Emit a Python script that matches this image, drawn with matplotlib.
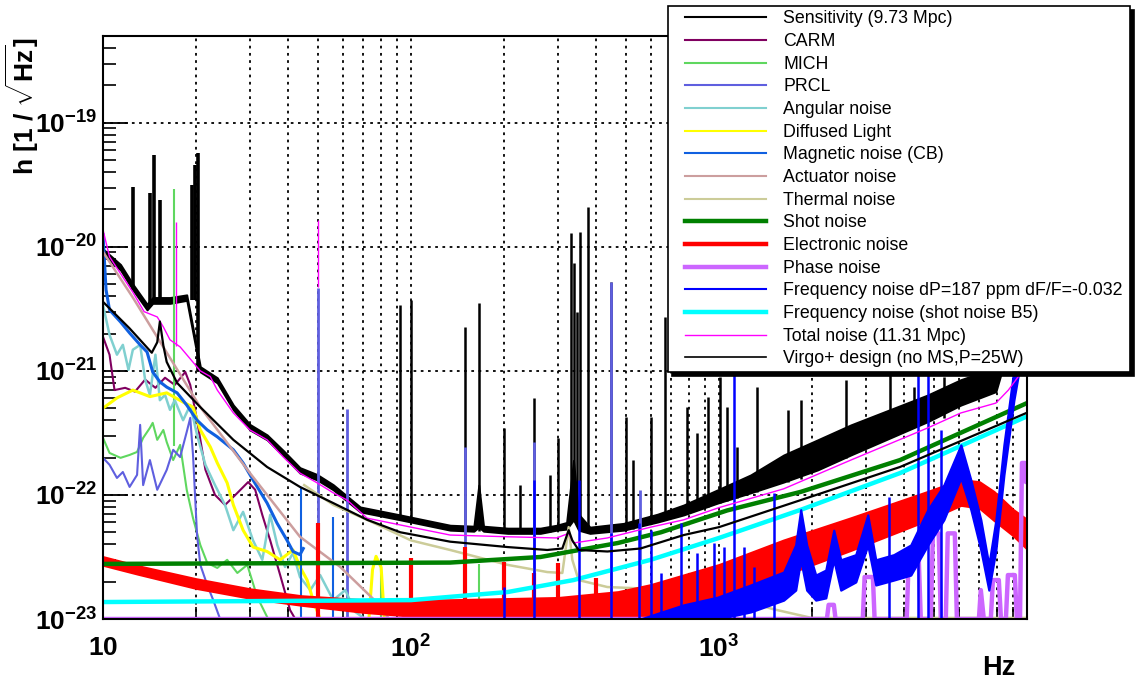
import numpy as np
import matplotlib
matplotlib.use("Agg")
import matplotlib.pyplot as plt
from matplotlib.lines import Line2D
from matplotlib.legend_handler import HandlerLine2D
from matplotlib.ticker import LogLocator, NullFormatter

plt.rcParams['font.family'] = ['Liberation Sans', 'DejaVu Sans']
plt.rcParams['mathtext.fontset'] = 'custom'
plt.rcParams['mathtext.rm'] = 'Liberation Sans:bold'
plt.rcParams['mathtext.it'] = 'Liberation Sans:bold'
plt.rcParams['mathtext.bf'] = 'Liberation Sans:bold'
plt.rcParams['mathtext.default'] = 'rm'

# ---------------- data: frequency [Hz], strain [1/sqrt(Hz)] ----------------
# measured sensitivity (noisy band: lower / upper edge) + lines
sens_f = [10, 11.4, 12.5, 13.9, 14.5, 16.5, 18.7, 20.7, 23.5, 26.5, 30, 34.1, 38.5, 43.6,
          49.6, 55.9, 68.4, 92.3, 134, 160, 166, 172, 206, 263, 297, 320, 337, 350, 381,
          490, 632, 768, 990, 1267, 1622, 2090, 2680, 4764, 6100, 7925, 8870, 10000]
sens_lo = [8.6e-21, 6.5e-21, 4.5e-21, 3.1e-21, 3.5e-21, 3.5e-21, 3.7e-21, 9.8e-22, 8.0e-22,
           4.85e-22, 3.34e-22, 2.78e-22, 2.06e-22, 1.5e-22, 1.32e-22, 1.1e-22, 7.3e-23,
           6.3e-23, 5.2e-23, 5.1e-23, 5.5e-23, 5.1e-23, 4.9e-23, 4.9e-23, 5.2e-23, 5.3e-23,
           6.3e-23, 5.2e-23, 4.9e-23, 5.2e-23, 6.05e-23, 6.9e-23, 8.6e-23, 1.04e-22,
           1.27e-22, 1.59e-22, 2.1e-22, 3.9e-22, 5.3e-22, 6.8e-22, 1.78e-21, 7.85e-21]
sens_hi = [9.6e-21, 7.2e-21, 5.0e-21, 3.45e-21, 3.9e-21, 3.9e-21, 4.1e-21, 1.08e-21, 8.8e-22,
           5.3e-22, 3.7e-22, 3.05e-22, 2.28e-22, 1.66e-22, 1.46e-22, 1.21e-22, 8.0e-23,
           6.9e-23, 5.7e-23, 5.6e-23, 1.2e-22, 5.6e-23, 5.4e-23, 5.4e-23, 5.7e-23, 6.0e-23,
           1.9e-22, 7.0e-23, 5.5e-23, 5.9e-23, 7.0e-23, 8.3e-23, 1.1e-22, 1.45e-22,
           2.1e-22, 2.78e-22, 3.67e-22, 6.4e-22, 8.5e-22, 1.06e-21, 3.7e-21, 2.4e-20]
sens_spike_f = [12.5, 14.2, 14.6, 15.3, 19.5, 19.9, 20.3, 92.3, 100, 150, 166, 200, 226, 250,
                283, 300, 330, 337, 345, 355, 376, 446, 500, 527, 600, 670, 790, 850, 920,
                1010, 1060, 1140, 1330, 1670, 1840, 2590, 3600, 4285, 5370]
sens_spike_base = [4.5e-21, 3.3e-21, 3.5e-21, 3.5e-21, 3.7e-21, 3.7e-21, 1.0e-21, 6.3e-23,
                   6.2e-23, 5.2e-23, 5.1e-23, 4.9e-23, 4.9e-23, 4.9e-23, 5.0e-23, 5.2e-23,
                   6.0e-23, 6.3e-23, 6.0e-23, 5.5e-23, 4.9e-23, 5.0e-23, 5.2e-23, 5.3e-23,
                   5.8e-23, 6.3e-23, 7.0e-23, 7.5e-23, 8.0e-23, 8.6e-23, 9.0e-23, 9.5e-23,
                   1.05e-22, 1.27e-22, 1.35e-22, 2.0e-22, 3.0e-22, 3.5e-22, 4.2e-22]
sens_spike_top = [3.05e-20, 2.72e-20, 5.5e-20, 2.4e-20, 3.16e-20, 4.6e-20, 5.7e-20, 3.4e-21,
                  3.74e-21, 2.26e-21, 3.53e-21, 3.47e-22, 1.2e-22, 6.05e-22, 1.45e-22,
                  2.88e-22, 1.3e-20, 7.4e-21, 3.0e-21, 1.32e-20, 2.1e-20, 5.2e-21, 4.26e-22,
                  1.91e-22, 4.26e-22, 2.72e-21, 5.1e-22, 3.16e-22, 6.2e-22, 8.9e-22, 5.1e-22,
                  2.44e-22, 7.4e-22, 4.85e-22, 5.8e-22, 8.5e-22, 1.2e-21, 7.4e-22, 8.9e-22]

carm_f = [10, 10.5, 10.9, 11.8, 12.7, 13.7, 14.8, 15.9, 17.1, 18.5, 19.2, 20.2, 21.5, 23.1,
          24.9, 26.9, 29.6, 31.2, 32.9, 34.9, 37.6, 40.5, 42.1]
carm_h = [1.88e-21, 1.35e-21, 7.0e-22, 7.3e-22, 6.8e-22, 8.5e-22, 7.3e-22, 8.8e-22, 7.7e-22,
          9.8e-22, 7.7e-22, 4.0e-22, 1.6e-22, 1.0e-22, 8.3e-23, 1.0e-22, 1.27e-22, 1.1e-22,
          6.9e-23, 4.3e-23, 2.26e-23, 1.18e-23, 1.0e-23]

mich_f = [10, 10.5, 11.4, 12.2, 12.9, 13.5, 14.2, 14.5, 15.0, 15.7, 16.1, 16.9, 17.8, 18.7,
          19.6, 20.7, 21.8, 23.5, 25.3, 27.3, 29.4, 31.7, 34.1]
mich_h = [2.88e-22, 2.18e-22, 1.99e-22, 2.1e-22, 2.22e-22, 2.88e-22, 3.47e-22, 3.81e-22,
          2.78e-22, 3.34e-22, 2.67e-22, 1.91e-22, 2.53e-22, 1.1e-22, 6.5e-23, 3.95e-23,
          2.83e-23, 2.58e-23, 3.0e-23, 2.35e-23, 2.73e-23, 1.5e-23, 1.04e-23]
mich_spike_f = [17.0, 80, 166]
mich_spike_base = [2.5e-22, 1.0e-23, 1.0e-23]
mich_spike_top = [2.95e-20, 2.8e-23, 2.8e-23]

prcl_f = [10, 10.5, 11.1, 11.6, 12.2, 12.9, 13.2, 13.5, 14.2, 15.0, 16.1, 16.9, 17.8, 18.7,
          19.2, 19.6, 20.2, 20.7, 21.8, 22.8, 24.0]
prcl_h = [1.99e-22, 1.75e-22, 1.37e-22, 1.53e-22, 1.16e-22, 1.45e-22, 3.67e-22, 1.2e-22,
          1.91e-22, 1.1e-22, 1.59e-22, 2.31e-22, 2.02e-22, 3.22e-22, 4.18e-22, 2.1e-22,
          4.75e-23, 2.73e-23, 1.88e-23, 1.42e-23, 1.0e-23]
prcl_spike_f = [50, 62, 150, 250, 446, 552]
prcl_spike_top = [4.67e-21, 4.9e-22, 2.44e-22, 2.67e-22, 5.2e-21, 1.1e-22]

angular_f = [10, 10.5, 11.1, 11.6, 12.1, 12.5, 13.2, 13.7, 14.2, 14.8, 15.3, 15.9, 16.5, 17.1,
             18.2, 19.2, 20.2, 21.5, 23.1, 24.9, 26.5, 28.5, 30.7, 32.9, 34.9, 36.8, 39.0,
             41.4, 43.6, 47.1, 50.7, 55.9, 61.2, 65.9, 71.1]
angular_h = [3.4e-21, 1.95e-21, 1.35e-21, 1.62e-21, 1.02e-21, 1.48e-21, 1.62e-21, 8.5e-22,
             6.4e-22, 1.35e-21, 5.8e-22, 6.4e-22, 4.85e-22, 5.8e-22, 4.0e-22, 5.3e-22,
             3.05e-22, 1.75e-22, 1.2e-22, 8.3e-23, 5.2e-23, 7.3e-23, 4.3e-23, 3.0e-23,
             6.9e-23, 3.95e-23, 2.63e-23, 3.4e-23, 2.18e-23, 1.71e-23, 2.26e-23, 1.42e-23,
             1.71e-23, 1.14e-23, 1.0e-23]

diffused_f = [10, 11.1, 12.5, 14.2, 16.1, 18.2, 19.6, 20.7, 22.3, 23.5, 25.3, 26.5, 28.5,
              30.7, 34.1, 37.6, 41.4, 43.6, 46.0, 48.1, 50.7]
diffused_h = [5.0e-22, 6.05e-22, 7.0e-22, 6.2e-22, 6.65e-22, 5.6e-22, 5.1e-22, 3.34e-22,
              2.44e-22, 1.81e-22, 1.25e-22, 8.3e-23, 5.2e-23, 3.8e-23, 3.5e-23, 3.0e-23,
              3.6e-23, 2.63e-23, 2.06e-23, 1.42e-23, 1.0e-23]
diffused_bump_f = [73, 75, 77, 80, 82]
diffused_bump_h = [1.0e-23, 2.5e-23, 3.2e-23, 2.6e-23, 1.0e-23]

magnetic_f = [10, 10.23, 10.5, 11.4, 12.2, 13.2, 13.9, 14.5, 15.3, 16.1, 17.4, 18.7, 20.2,
              21.8, 23.5, 26.5, 28.5, 30.7, 34.1, 36.7, 39.6, 41.4, 43.6, 44.7]
magnetic_h = [1.25e-20, 4.5e-21, 3.1e-21, 2.48e-21, 2.02e-21, 1.62e-21, 1.42e-21, 9.8e-22,
              8.15e-22, 7.4e-22, 6.65e-22, 5.3e-22, 4.0e-22, 3.34e-22, 2.94e-22, 2.31e-22,
              1.81e-22, 1.32e-22, 8.6e-23, 5.95e-23, 4.3e-23, 3.5e-23, 3.3e-23, 3.7e-23]
magnetic_spike_f = [44, 56]
magnetic_spike_top = [1.16e-22, 6.6e-23]

actuator_f = [10, 12.5, 20.7, 30, 43.6, 58.9, 77.7, 85]
actuator_h = [9.1e-21, 3.9e-21, 5.1e-22, 1.5e-22, 4.6e-23, 2.63e-23, 1.35e-23, 1.0e-23]

thermal_f = [45, 56, 72, 100, 134, 206, 277, 310, 325, 334, 350, 434, 600, 1000, 1500, 2000,
             10000]
thermal_h = [1.2e-22, 8.3e-23, 6.3e-23, 4.3e-23, 3.6e-23, 2.73e-23, 2.39e-23, 2.35e-23,
             5.5e-23, 3.0e-23, 2.06e-23, 1.81e-23, 1.75e-23, 1.6e-23, 1.2e-23, 1.02e-23,
             1.02e-23]

shot_f = [10, 134, 263, 470, 648, 1063, 1846, 3870, 10000]
shot_h = [2.78e-23, 2.85e-23, 3.16e-23, 4.1e-23, 5.0e-23, 7.5e-23, 1.06e-22, 1.91e-22, 5.5e-22]

electronic_f = [10, 13, 20, 30, 44, 70, 134, 300, 470, 600, 1000, 1620, 2680, 4760, 6100,
                7000, 7800, 9000, 10000]
electronic_hi = [3.16e-23, 2.67e-23, 2.1e-23, 1.74e-23, 1.53e-23, 1.42e-23, 1.42e-23, 1.48e-23,
                 1.65e-23, 1.88e-23, 2.73e-23, 4.3e-23, 6.5e-23, 1.06e-22, 1.32e-22, 1.27e-22,
                 1.06e-22, 7.6e-23, 6.3e-23]
electronic_lo = [2.73e-23, 2.31e-23, 1.78e-23, 1.48e-23, 1.30e-23, 1.14e-23, 1.0e-23, 1.0e-23,
                 1.0e-23, 1.08e-23, 1.5e-23, 2.26e-23, 3.6e-23, 6.3e-23, 8.3e-23, 7.9e-23,
                 6.3e-23, 4.75e-23, 3.7e-23]
electronic_spike_f = [50, 100, 150, 200, 250, 300, 400]
electronic_spike_top = [5.9e-23, 3.1e-23, 3.8e-23, 2.88e-23, 2.35e-23, 2.83e-23, 2.14e-23]

phase_f = [10, 2240, 2270, 2360, 2390, 2930, 2970, 3160, 3200, 4070, 4130, 4450, 4520, 4870,
           4950, 5170, 5250, 5450, 5530, 5830, 5920, 6980, 7080, 7240, 7630, 7750, 8100, 8230,
           8540, 8670, 9130, 9270, 9490, 9630, 9850, 9920, 10000]
phase_h = [1e-23, 1e-23, 1.3e-23, 1.3e-23, 1e-23, 1e-23, 2.18e-23, 2.18e-23, 1e-23, 1e-23,
           3.16e-23, 3.16e-23, 1e-23, 1e-23, 4.9e-23, 4.9e-23, 1e-23, 1e-23, 4.9e-23, 4.9e-23,
           1e-23, 1e-23, 1.71e-23, 1e-23, 1e-23, 2.06e-23, 2.06e-23, 1e-23, 1e-23, 2.26e-23,
           2.26e-23, 1e-23, 1e-23, 1.81e-22, 1.81e-22, 1.27e-22, 1.27e-22]

freq_f = [10, 556, 768, 990, 1267, 1622, 1774, 1842, 1926, 2061, 2222, 2358, 2485, 2780, 3041,
          3228, 3692, 4194, 4764, 5370, 6100, 6572, 7080, 7517, 7925, 8414, 9065, 9556]
freq_hi = [1.0e-23, 1.0e-23, 1.30e-23, 1.5e-23, 1.88e-23, 2.39e-23, 3.95e-23, 7.6e-23,
           3.95e-23, 2.26e-23, 2.48e-23, 5.2e-23, 3.0e-23, 3.3e-23, 6.9e-23, 3.0e-23, 3.3e-23,
           3.95e-23, 7.6e-23, 1.2e-22, 2.53e-22, 1.32e-22, 6.3e-23, 2.73e-23, 6.3e-23,
           2.53e-22, 1.02e-21, 2.14e-21]
freq_lo = [1.0e-23, 1.0e-23, 1.0e-23, 1.0e-23, 1.14e-23, 1.42e-23, 1.71e-23, 3.0e-23, 1.71e-23,
           1.42e-23, 1.48e-23, 3.0e-23, 1.71e-23, 1.99e-23, 3.95e-23, 1.88e-23, 2.06e-23,
           2.26e-23, 3.95e-23, 6.3e-23, 1.37e-22, 7.6e-23, 3.6e-23, 1.71e-23, 3.6e-23,
           1.45e-22, 5.8e-22, 1.23e-21]
freq_spike_f = [200, 250, 350, 446, 550, 600, 646, 750, 851, 960, 1035, 1115, 1202, 1296, 1505,
                3556, 4421, 4764, 5253]
freq_spike_top = [1.81e-23, 1.32e-22, 1.32e-22, 4.9e-23, 5.95e-23, 5.2e-23, 2.35e-23, 5.95e-23,
                  3.4e-23, 4.1e-23, 3.8e-23, 2.14e-21, 3.8e-23, 2.63e-23, 1.04e-22, 9.6e-23,
                  2.14e-21, 2.14e-21, 3.34e-22]

freqshot_f = [10, 100, 206, 337, 600, 1000, 1846, 3870, 10000]
freqshot_h = [1.37e-23, 1.42e-23, 1.65e-23, 2.06e-23, 3.0e-23, 4.5e-23, 7.6e-23, 1.5e-22, 4.3e-22]

total_f = [10, 10.5, 12.5, 13.6, 15.0, 15.7, 16.5, 17.8, 20.7, 22.3, 23.5, 26.5, 30, 34.1,
           38.5, 43.6, 49.6, 55.9, 62, 72, 100, 134, 206, 297, 325, 337, 434, 600, 768, 1000,
           1622, 2680, 4764, 6100, 7925, 8700, 9556, 10000]
total_h = [1.37e-20, 8.3e-21, 4.3e-21, 3.0e-21, 2.72e-21, 2.26e-21, 1.78e-21, 1.56e-21,
           1.0e-21, 9.0e-22, 7.0e-22, 4.58e-22, 3.34e-22, 2.78e-22, 2.02e-22, 1.5e-22,
           1.25e-22, 1.04e-22, 9.1e-23, 6.5e-23, 5.5e-23, 4.75e-23, 4.6e-23, 4.5e-23, 4.9e-23,
           4.1e-23, 4.5e-23, 5.5e-23, 6.3e-23, 7.9e-23, 1.12e-22, 1.91e-22, 3.47e-22,
           4.58e-22, 5.5e-22, 7.0e-22, 9.6e-22, 3.7e-21]
total_spike_f = [17.2, 50]
total_spike_base = [1.6e-21, 4.7e-21]
total_spike_top = [1.57e-20, 1.64e-20]

design_f = [10, 12.2, 14.4, 15.0, 15.3, 15.7, 16.1, 17.4, 20.7, 26.5, 34.1, 43.6, 55.9, 72.1,
            92.3, 134, 206, 277, 310, 325, 334, 350, 434, 556, 768, 1000, 1846, 3870, 10000]
design_h = [3.6e-21, 2.2e-21, 1.4e-21, 1.7e-21, 2.5e-21, 1.6e-21, 1.18e-21, 8.0e-22, 5.1e-22,
            2.78e-22, 1.68e-22, 1.16e-22, 8.6e-23, 6.3e-23, 5.0e-23, 4.2e-23, 3.8e-23,
            3.6e-23, 3.7e-23, 5.2e-23, 4.3e-23, 3.6e-23, 3.5e-23, 3.7e-23, 4.75e-23, 5.5e-23,
            9.1e-23, 1.68e-22, 4.6e-22]

labels = ['Sensitivity (9.73 Mpc)', 'CARM', 'MICH', 'PRCL', 'Angular noise', 'Diffused Light',
          'Magnetic noise (CB)', 'Actuator noise', 'Thermal noise', 'Shot noise',
          'Electronic noise', 'Phase noise', 'Frequency noise dP=187 ppm dF/F=-0.032',
          'Frequency noise (shot noise B5)', 'Total noise (11.31 Mpc)',
          'Virgo+ design (no MS,P=25W)']

# ---------------- styles ----------------
colors = ['#000000', '#800060', '#5fd75f', '#5f5fdf', '#80d0d0', '#ffff00', '#1060e0',
          '#cc9e9e', '#cccc99', '#008000', '#ff0000', '#cc66ff', '#0000ff', '#00ffff',
          '#ff00ff', '#000000']
widths = [1.5, 1.5, 1.5, 1.5, 1.5, 1.5, 1.5, 1.5, 1.5, 3.2, 3.2, 3.2, 1.5, 3.2, 1.0, 1.2]
BOT = 1e-23

fig = plt.figure(figsize=(11.35, 6.84), dpi=100)
ax = fig.add_axes([103 / 1135, 65 / 684, 924 / 1135, 583 / 684])
ax.set_xscale('log')
ax.set_yscale('log')

c = colors
# sensitivity
ax.fill_between(sens_f, sens_lo, sens_hi, color=c[0], lw=1.4, zorder=2)
ax.vlines(sens_spike_f[:7], sens_spike_base[:7], sens_spike_top[:7], color=c[0], lw=2.6, zorder=2)
ax.vlines(sens_spike_f[7:], sens_spike_base[7:], sens_spike_top[7:], color=c[0], lw=1.8, zorder=2)
# CARM / MICH / PRCL
ax.plot(carm_f, carm_h, color=c[1], lw=1.5, zorder=3)
ax.plot(mich_f, mich_h, color=c[2], lw=1.5, zorder=4)
ax.vlines(mich_spike_f, mich_spike_base, mich_spike_top, color=c[2], lw=1.5, zorder=4)
ax.plot(prcl_f, prcl_h, color=c[3], lw=1.5, zorder=5)
ax.vlines(prcl_spike_f, BOT, prcl_spike_top, color=c[3], lw=2.0, zorder=5)
# angular, diffused light, magnetic, actuator, thermal
ax.plot(angular_f, angular_h, color=c[4], lw=1.8, zorder=6)
ax.plot(diffused_f, diffused_h, color=c[5], lw=2.2, zorder=7)
ax.plot(diffused_bump_f, diffused_bump_h, color=c[5], lw=2.2, zorder=7)
ax.plot(magnetic_f, magnetic_h, color=c[6], lw=2.2, zorder=8)
ax.vlines(magnetic_spike_f, BOT, magnetic_spike_top, color=c[6], lw=1.5, zorder=8)
ax.plot(actuator_f, actuator_h, color=c[7], lw=1.8, zorder=9)
ax.plot(thermal_f, thermal_h, color=c[8], lw=1.8, zorder=10)
# electronic, phase, shot, freq shot, freq noise
ax.fill_between(electronic_f, electronic_lo, electronic_hi, color=c[10], lw=2.0, zorder=11)
ax.vlines(electronic_spike_f, BOT, electronic_spike_top, color=c[10], lw=3, zorder=11)
ax.plot(phase_f, phase_h, color=c[11], lw=3.2, zorder=12)
ax.plot(shot_f, shot_h, color=c[9], lw=3.2, zorder=13)
ax.plot(freqshot_f, freqshot_h, color=c[13], lw=3.2, zorder=14)
ax.fill_between(freq_f, freq_lo, freq_hi, color=c[12], lw=1.6, zorder=15)
ax.vlines(freq_spike_f, BOT, freq_spike_top, color=c[12], lw=1.8, zorder=15)
# total noise and design
ax.plot(total_f, total_h, color=c[14], lw=1.0, zorder=16)
ax.vlines(total_spike_f, total_spike_base, total_spike_top, color=c[14], lw=1.0, zorder=16)
ax.plot(design_f, design_h, color=c[15], lw=1.6, zorder=17)

ax.set_xlim(10, 1e4)
ax.set_ylim(1e-23, 5.0e-19)

ax.set_xticks([10, 100, 1000])
ax.set_xticklabels([r'$10$', r'$10^{2}$', r'$10^{3}$'])
ax.set_yticks([1e-23, 1e-22, 1e-21, 1e-20, 1e-19])
ax.set_yticklabels([r'$10^{-23}$', r'$10^{-22}$', r'$10^{-21}$', r'$10^{-20}$', r'$10^{-19}$'])
ax.xaxis.set_minor_locator(LogLocator(base=10, subs=np.arange(2, 10), numticks=20))
ax.yaxis.set_minor_locator(LogLocator(base=10, subs=np.arange(2, 10), numticks=20))
ax.xaxis.set_minor_formatter(NullFormatter())
ax.yaxis.set_minor_formatter(NullFormatter())
ax.tick_params(which='major', direction='in', length=18, width=1.3, labelsize=19,
               top=False, right=False)
ax.tick_params(which='minor', direction='in', length=9, width=1.2, top=False, right=False)
ax.tick_params(axis='y', pad=4)
ax.tick_params(axis='x', pad=12)

ax.set_axisbelow(True)
ax.grid(True, which='major', color='k', ls=(0, (1.5, 2.5)), lw=1.3)
ax.grid(True, which='minor', axis='x', color='k', ls=(0, (1.5, 2.5)), lw=1.3)
for s in ax.spines.values():
    s.set_linewidth(1.5)
    s.set_zorder(20)

fig.text(22 / 1135, 1 - 37 / 684, r'h [1 / $\sqrt{\mathrm{Hz}}$]', rotation=90,
         fontsize=19, fontweight='bold', ha='center', va='top')
fig.text(1015 / 1135, 1 - 668 / 684, 'Hz', fontsize=19.5, fontweight='bold',
         ha='right', va='center')

handles = [Line2D([], [], color=col, lw=w) for col, w in zip(colors, widths)]
leg = fig.legend(handles, labels, loc='upper left',
                 bbox_to_anchor=(668 / 1135, 1 - 6 / 684, 462 / 1135, 0), mode='expand',
                 fontsize=12.75, labelspacing=0.32, handlelength=5.3, handletextpad=0.95,
                 borderpad=0.25, borderaxespad=0, fancybox=False, edgecolor='k',
                 framealpha=1, shadow={'ox': 3, 'oy': -3, 'color': 'k', 'alpha': 1},
                 handler_map={Line2D: HandlerLine2D(xpad=0.7)})
leg.get_frame().set_linewidth(1.2)
leg.set_zorder(30)

fig.savefig('out.png', dpi=100)
